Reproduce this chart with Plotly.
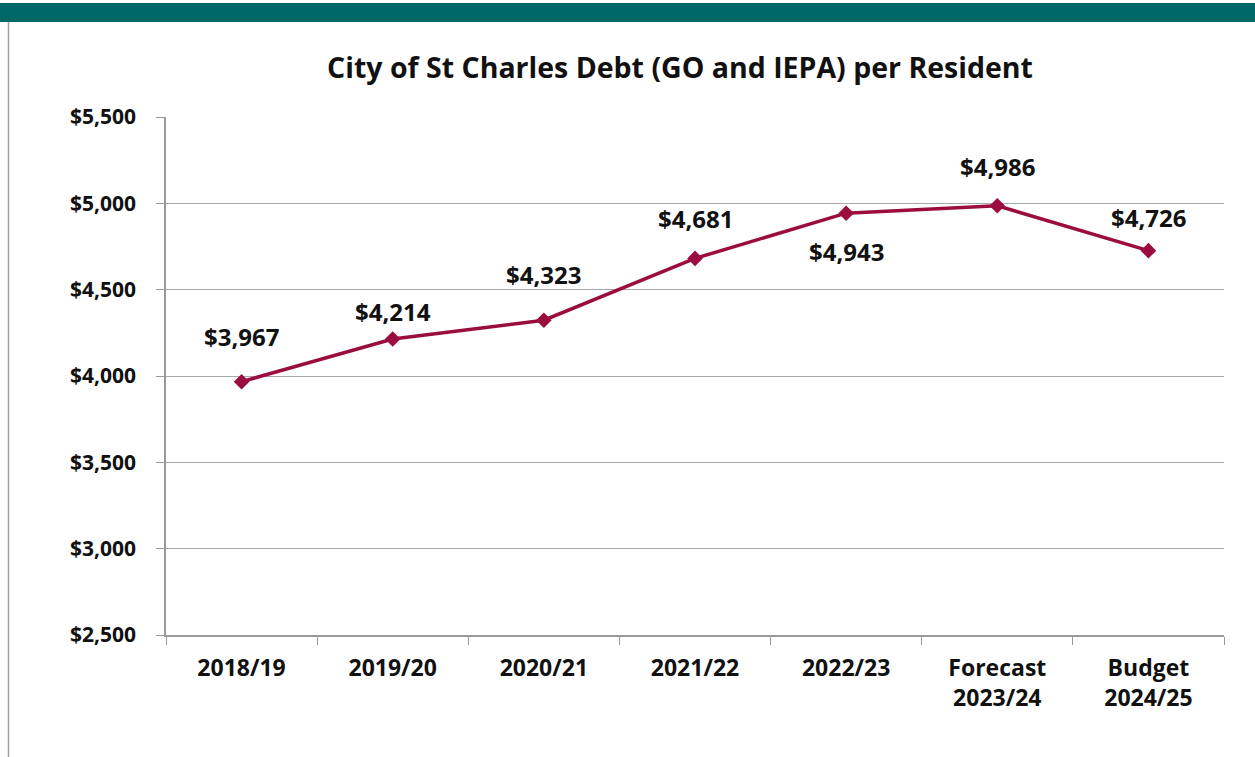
import plotly.graph_objects as go

categories = ["2018/19", "2019/20", "2020/21", "2021/22", "2022/23", "Forecast<br>2023/24", "Budget<br>2024/25"]
debt_per_resident = [3967, 4214, 4323, 4681, 4943, 4986, 4726]
y_ticks = [2500, 3000, 3500, 4000, 4500, 5000, 5500]
y_tick_labels = ["$2,500", "$3,000", "$3,500", "$4,000", "$4,500", "$5,000", "$5,500"]

# vertical pixel offset of each data label from its point (positive = above)
label_offsets = [45, 28, 46, 40, -38, 39, 33]

line_color = "#9B0D3F"
font_family = "'Open Sans', Lato, sans-serif"

fig = go.Figure()
fig.add_trace(go.Scatter(
    x=categories, y=debt_per_resident, mode="lines+markers",
    line=dict(color=line_color, width=3.5),
    marker=dict(symbol="diamond", size=12, color=line_color),
    hoverinfo="skip", showlegend=False,
))

for c, v, off in zip(categories, debt_per_resident, label_offsets):
    fig.add_annotation(x=c, y=v, xref="x", yref="y", text=f"${v:,}", showarrow=False,
                       yshift=off,
                       font=dict(family=font_family, size=24, color="#111111", weight="bold"))

W, H = 1255, 757
L, R, T, B = 166, 31, 117, 122
pw, ph = W - L - R, H - T - B

def px(x):
    return (x - L) / pw

def py(y):
    return (H - B - y) / ph

# teal header band and left border line
fig.add_shape(type="rect", xref="paper", yref="paper", x0=px(0), x1=px(W), y0=py(22), y1=py(3),
              fillcolor="#006866", line=dict(width=0), layer="above")
fig.add_shape(type="line", xref="paper", yref="paper", x0=px(8.5), x1=px(8.5), y0=py(22), y1=py(H),
              line=dict(color="#A0A0A0", width=1.5))

fig.update_layout(
    width=W, height=H,
    margin=dict(l=L, r=R, t=T, b=B),
    paper_bgcolor="white", plot_bgcolor="white",
    title=dict(text="<b>City of St Charles Debt (GO and IEPA) per Resident</b>",
               x=(328 + 1032) / 2 / W, xanchor="center", y=1 - 68 / H, yanchor="middle",
               font=dict(family=font_family, size=28.5, color="#111111")),
    xaxis=dict(type="category", range=[-0.5, len(categories) - 0.5],
               tickson="boundaries", ticks="outside", ticklen=8, tickcolor="#9A9A9A",
               showline=True, linecolor="#9A9A9A", linewidth=1.5, showgrid=False,
               tickfont=dict(family=font_family, size=23, color="#111111", weight="bold"),
               ticklabelstandoff=12),
    yaxis=dict(range=[2500, 5500], tickvals=y_ticks, ticktext=y_tick_labels,
               ticks="outside", ticklen=8, tickcolor="#9A9A9A",
               showline=True, linecolor="#9A9A9A", linewidth=1.5,
               showgrid=True, gridcolor="#A8A8A8", gridwidth=1, zeroline=False,
               tickfont=dict(family=font_family, size=21, color="#111111", weight="bold"),
               ticklabelstandoff=16),
)

fig.write_html("out.html", config={"displayModeBar": False},
               post_script="document.body.style.margin='0';")
